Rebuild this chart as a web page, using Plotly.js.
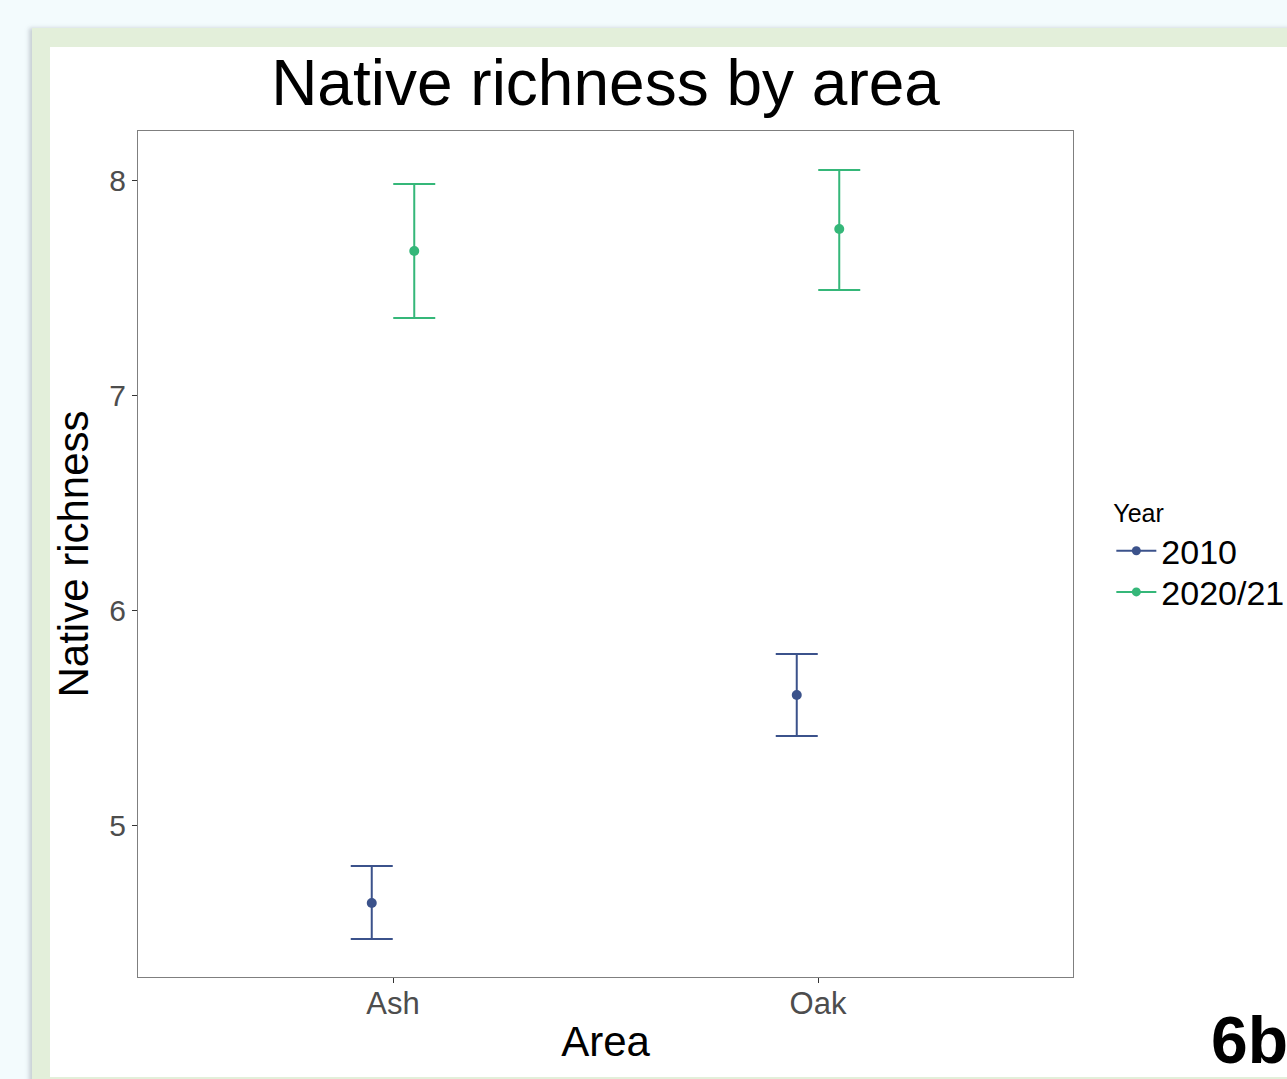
<!DOCTYPE html>
<html>
<head>
<meta charset="utf-8">
<script src="https://cdn.plot.ly/plotly-3.0.1.min.js"></script>
<style>
  html, body { margin:0; padding:0; background:#f3fbfd; width:1287px; height:1079px; overflow:hidden; }
  #frame { position:absolute; left:32px; top:28px; width:1300px; height:1060px; background:#e3efda; box-shadow:-3px 0 4px rgba(120,130,140,0.35); }
  #chart { position:absolute; left:50px; top:47px; width:1237px; height:1030px; background:#ffffff; }
  #label { position:absolute; left:1211px; top:1002px; font-family:"Liberation Sans", Arial, sans-serif; font-weight:bold; font-size:66px; color:#000; }
</style>
</head>
<body>
<div id="frame"></div>
<div id="chart"></div>
<div id="label">6b</div>
<script>
const categories = ["Ash", "Oak"];
const years = ["2010", "2020/21"];
const mean2010 = [4.637, 5.605];
const upper2010 = [4.809, 5.795];
const lower2010 = [4.470, 5.414];
const mean2020 = [7.670, 7.772];
const upper2020 = [7.981, 8.047];
const lower2020 = [7.358, 7.488];
const colors = ["#3b528b", "#35b779"];
const dodge = 0.05;

function trace(name, mean, up, lo, color, offset) {
  return {
    type: "scatter", mode: "markers", name: name, showlegend: false,
    x: categories.map((c, i) => i + 1 + offset),
    y: mean,
    marker: { color: color, size: 10 },
    error_y: {
      type: "data", symmetric: false,
      array: up.map((u, i) => u - mean[i]),
      arrayminus: lo.map((l, i) => mean[i] - l),
      color: color, thickness: 2, width: 21
    },
    hoverinfo: "x+y"
  };
}

function legendTrace(name, color, legendId) {
  return {
    type: "scatter", mode: "lines+markers", name: name, legend: legendId,
    x: [null], y: [null],
    line: { color: color, width: 2 },
    marker: { color: color, size: 9 },
    showlegend: true, hoverinfo: "skip"
  };
}

const data = [
  trace(years[0], mean2010, upper2010, lower2010, colors[0], -dodge),
  trace(years[1], mean2020, upper2020, lower2020, colors[1], dodge),
  legendTrace(years[0], colors[0], "legend"),
  legendTrace(years[1], colors[1], "legend2")
];

const legendBase = {
  xanchor: "left", yanchor: "top",
  font: { size: 34, color: "#000" },
  bgcolor: "rgba(0,0,0,0)", itemwidth: 40
};

const layout = {
  width: 1237, height: 1030,
  paper_bgcolor: "#ffffff", plot_bgcolor: "#ffffff",
  font: { family: "Liberation Sans, Arial, sans-serif", color: "#000" },
  margin: { l: 88, r: 214, t: 84, b: 100, autoexpand: false },
  title: { text: "Native richness by area", font: { size: 64, color: "#000" }, x: 0.5, xref: "paper", xanchor: "center", y: 0.965, yref: "container", yanchor: "middle" },
  xaxis: {
    range: [0.4, 2.6], tickvals: [1, 2], ticktext: categories,
    showgrid: false, zeroline: false, showline: true, mirror: true, linecolor: "#7f7f7f", linewidth: 1,
    ticks: "outside", ticklen: 5, tickcolor: "#333", tickwidth: 1,
    ticklabelstandoff: -6,
    tickfont: { size: 31, color: "#4d4d4d" },
    title: { text: "Area", font: { size: 42, color: "#000" }, standoff: 6 }
  },
  yaxis: {
    range: [4.293, 8.228], tickvals: [5, 6, 7, 8],
    showgrid: false, zeroline: false, showline: true, mirror: true, linecolor: "#7f7f7f", linewidth: 1,
    ticks: "outside", ticklen: 5, tickcolor: "#333", tickwidth: 1,
    tickfont: { size: 30, color: "#4d4d4d" },
    title: { text: "Native richness", font: { size: 42, color: "#000" }, standoff: 16 }
  },
  showlegend: true,
  legend: Object.assign({}, legendBase, {
    x: 1.041, y: 0.576,
    title: { text: "Year", font: { size: 25, color: "#000" } }
  }),
  legend2: Object.assign({}, legendBase, {
    x: 1.041, y: 0.489
  })
};

Plotly.newPlot("chart", data, layout, { displayModeBar: false, staticPlot: true });
</script>
</body>
</html>
